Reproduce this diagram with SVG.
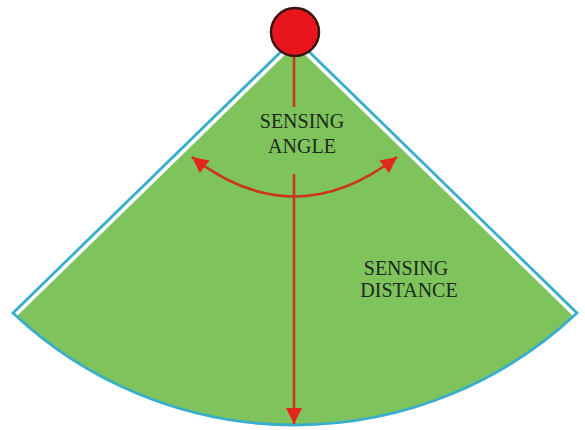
<svg xmlns="http://www.w3.org/2000/svg" width="585" height="430" viewBox="0 0 585 430">
<style>
.lbl{font-family:"Liberation Serif","Times New Roman",serif;font-size:20px;fill:#1c2a1c;text-anchor:middle}
.red{stroke:#c8361f;stroke-width:2.6;fill:none}
</style>
<defs>
<marker id="ah" viewBox="0 0 10 10" refX="10" refY="5" markerUnits="userSpaceOnUse" markerWidth="18" markerHeight="16" orient="auto-start-reverse">
<path d="M0,0 L10,5 L0,10 z" fill="#e3261c"/>
</marker>
</defs>
<rect width="585" height="430" fill="#ffffff"/>
<g id="sector">
<path d="M295,45 L17,316 A411,411 0 0 0 573,316 Z" fill="#7fc35d"/>
<path d="M295,38 L13,313 A411,411 0 0 0 577,313 Z" fill="none" stroke="#38aecb" stroke-width="2.8" stroke-linejoin="miter"/>
</g>
<g id="connectors">
<line class="red" x1="294" y1="40" x2="294" y2="107"/>
<line class="red" x1="294" y1="174" x2="294" y2="424" marker-end="url(#ah)"/>
<path class="red" d="M192,157 Q294,236 397,157" marker-start="url(#ah)" marker-end="url(#ah)"/>
</g>
<g id="sensor">
<circle cx="295" cy="32" r="24" fill="#e8161c" stroke="#3a1412" stroke-width="2.5"/>
</g>
<g id="angle-label">
<text class="lbl" x="302" y="128">SENSING</text>
<text class="lbl" x="302" y="153">ANGLE</text>
</g>
<g id="distance-label">
<text class="lbl" x="406" y="275">SENSING</text>
<text class="lbl" x="409" y="297">DISTANCE</text>
</g>
</svg>
